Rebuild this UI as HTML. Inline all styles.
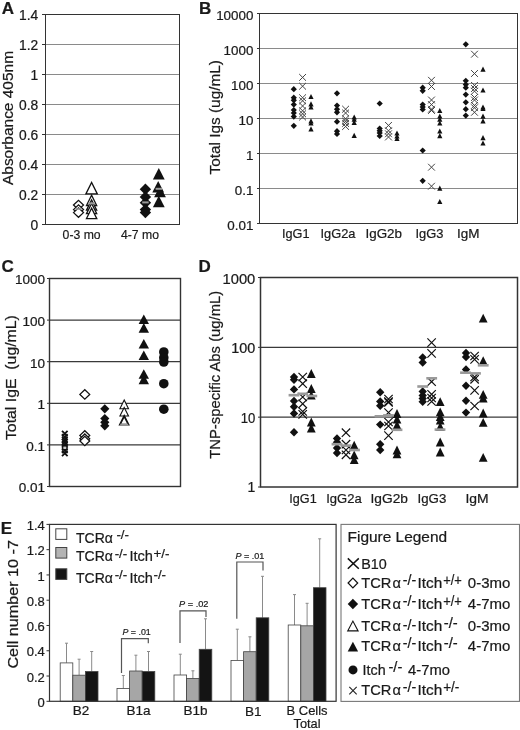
<!DOCTYPE html>
<html><head><meta charset="utf-8"><title>Figure</title>
<style>
html,body{margin:0;padding:0;background:#fff;}
svg{display:block;font-family:"Liberation Sans",sans-serif;}
text{stroke:#1a1a1a;stroke-width:0.22px;}
</style></head><body>
<svg width="520" height="730" viewBox="0 0 520 730">
<rect width="520" height="730" fill="#fff"/>
<line x1="42.0" y1="14.5" x2="45.5" y2="14.5" stroke="#333" stroke-width="1"/>
<text x="38.3" y="20.3" font-size="13.8" text-anchor="end" font-weight="normal" fill="#1a1a1a">1.4</text>
<line x1="45.5" y1="44.5" x2="179.5" y2="44.5" stroke="#8a8a8a" stroke-width="1"/>
<line x1="42.0" y1="44.5" x2="45.5" y2="44.5" stroke="#333" stroke-width="1"/>
<text x="38.3" y="50.3" font-size="13.8" text-anchor="end" font-weight="normal" fill="#1a1a1a">1.2</text>
<line x1="45.5" y1="74.5" x2="179.5" y2="74.5" stroke="#8a8a8a" stroke-width="1"/>
<line x1="42.0" y1="74.5" x2="45.5" y2="74.5" stroke="#333" stroke-width="1"/>
<text x="38.3" y="80.3" font-size="13.8" text-anchor="end" font-weight="normal" fill="#1a1a1a">1</text>
<line x1="45.5" y1="104.5" x2="179.5" y2="104.5" stroke="#8a8a8a" stroke-width="1"/>
<line x1="42.0" y1="104.5" x2="45.5" y2="104.5" stroke="#333" stroke-width="1"/>
<text x="38.3" y="110.3" font-size="13.8" text-anchor="end" font-weight="normal" fill="#1a1a1a">0.8</text>
<line x1="45.5" y1="134.5" x2="179.5" y2="134.5" stroke="#8a8a8a" stroke-width="1"/>
<line x1="42.0" y1="134.5" x2="45.5" y2="134.5" stroke="#333" stroke-width="1"/>
<text x="38.3" y="140.3" font-size="13.8" text-anchor="end" font-weight="normal" fill="#1a1a1a">0.6</text>
<line x1="45.5" y1="164.5" x2="179.5" y2="164.5" stroke="#8a8a8a" stroke-width="1"/>
<line x1="42.0" y1="164.5" x2="45.5" y2="164.5" stroke="#333" stroke-width="1"/>
<text x="38.3" y="170.3" font-size="13.8" text-anchor="end" font-weight="normal" fill="#1a1a1a">0.4</text>
<line x1="45.5" y1="194.5" x2="179.5" y2="194.5" stroke="#8a8a8a" stroke-width="1"/>
<line x1="42.0" y1="194.5" x2="45.5" y2="194.5" stroke="#333" stroke-width="1"/>
<text x="38.3" y="200.3" font-size="13.8" text-anchor="end" font-weight="normal" fill="#1a1a1a">0.2</text>
<line x1="42.0" y1="224.5" x2="45.5" y2="224.5" stroke="#333" stroke-width="1"/>
<text x="38.3" y="230.3" font-size="13.8" text-anchor="end" font-weight="normal" fill="#1a1a1a">0</text>
<rect x="45.5" y="14.5" width="134.0" height="210.0" fill="none" stroke="#333" stroke-width="1"/>
<text x="1.8" y="14.4" font-size="17" text-anchor="start" font-weight="bold" fill="#1a1a1a">A</text>
<text transform="translate(12.6,118) rotate(-90)" font-size="14.5" text-anchor="middle" fill="#1a1a1a" textLength="134" lengthAdjust="spacingAndGlyphs">Absorbance 405nm</text>
<text x="81.6" y="238.6" font-size="13.5" text-anchor="middle" font-weight="normal" fill="#1a1a1a" textLength="38" lengthAdjust="spacingAndGlyphs">0-3 mo</text>
<text x="140" y="238.6" font-size="13.5" text-anchor="middle" font-weight="normal" fill="#1a1a1a" textLength="38" lengthAdjust="spacingAndGlyphs">4-7 mo</text>
<polygon points="73.5,205.0 78.5,200.3 83.5,205.0 78.5,209.7" fill="#fff" stroke="#111" stroke-width="1.3"/>
<polygon points="73.5,209.6 78.5,204.9 83.5,209.6 78.5,214.3" fill="#fff" stroke="#111" stroke-width="1.3"/>
<polygon points="73.5,212.6 78.5,207.9 83.5,212.6 78.5,217.3" fill="#fff" stroke="#111" stroke-width="1.3"/>
<polygon points="85.9,193.9 91.6,182.5 97.3,193.9" fill="#fff" stroke="#111" stroke-width="1.3"/>
<polygon points="86.5,205.5 91.6,195.3 96.7,205.5" fill="#fff" stroke="#111" stroke-width="1.3"/>
<polygon points="86.5,210.1 91.6,199.9 96.7,210.1" fill="#fff" stroke="#111" stroke-width="1.3"/>
<polygon points="86.5,213.6 91.6,203.4 96.7,213.6" fill="#fff" stroke="#111" stroke-width="1.3"/>
<polygon points="86.4,218.7 91.6,208.3 96.8,218.7" fill="#fff" stroke="#111" stroke-width="1.3"/>
<rect x="75.5" y="208.2" width="6" height="1.6" fill="#9a9a9a"/>
<rect x="88.3" y="202.4" width="6.5" height="2" fill="#9a9a9a"/>
<polygon points="139.7,189.3 145.4,183.6 151.1,189.3 145.4,195.0" fill="#111" stroke="none" stroke-width="1"/>
<polygon points="139.7,197.0 145.4,191.3 151.1,197.0 145.4,202.7" fill="#111" stroke="none" stroke-width="1"/>
<polygon points="139.7,202.7 145.4,197.0 151.1,202.7 145.4,208.4" fill="#111" stroke="none" stroke-width="1"/>
<polygon points="139.7,209.6 145.4,203.9 151.1,209.6 145.4,215.3" fill="#111" stroke="none" stroke-width="1"/>
<polygon points="139.7,212.6 145.4,206.9 151.1,212.6 145.4,218.3" fill="#111" stroke="none" stroke-width="1"/>
<polygon points="152.9,179.5 158.8,168.1 164.7,179.5" fill="#111" stroke="none" stroke-width="1"/>
<polygon points="152.3,192.5 158.2,181.1 164.1,192.5" fill="#111" stroke="none" stroke-width="1"/>
<polygon points="154.1,197.3 160.0,185.9 165.9,197.3" fill="#111" stroke="none" stroke-width="1"/>
<polygon points="152.9,207.2 158.8,195.8 164.7,207.2" fill="#111" stroke="none" stroke-width="1"/>
<rect x="142.2" y="201.4" width="6.5" height="2" fill="#9a9a9a"/>
<rect x="155.6" y="187.8" width="6.5" height="2" fill="#9a9a9a"/>
<line x1="257.0" y1="13.5" x2="259.5" y2="13.5" stroke="#333" stroke-width="1"/>
<text x="253.4" y="19.9" font-size="13.4" text-anchor="end" font-weight="normal" fill="#1a1a1a">10000</text>
<line x1="259.5" y1="48.5" x2="517.5" y2="48.5" stroke="#8a8a8a" stroke-width="1"/>
<line x1="257.0" y1="48.5" x2="259.5" y2="48.5" stroke="#333" stroke-width="1"/>
<text x="253.4" y="54.9" font-size="13.4" text-anchor="end" font-weight="normal" fill="#1a1a1a">1000</text>
<line x1="259.5" y1="83.5" x2="517.5" y2="83.5" stroke="#8a8a8a" stroke-width="1"/>
<line x1="257.0" y1="83.5" x2="259.5" y2="83.5" stroke="#333" stroke-width="1"/>
<text x="253.4" y="89.9" font-size="13.4" text-anchor="end" font-weight="normal" fill="#1a1a1a">100</text>
<line x1="259.5" y1="118.5" x2="517.5" y2="118.5" stroke="#8a8a8a" stroke-width="1"/>
<line x1="257.0" y1="118.5" x2="259.5" y2="118.5" stroke="#333" stroke-width="1"/>
<text x="253.4" y="124.9" font-size="13.4" text-anchor="end" font-weight="normal" fill="#1a1a1a">10</text>
<line x1="259.5" y1="153.5" x2="517.5" y2="153.5" stroke="#8a8a8a" stroke-width="1"/>
<line x1="257.0" y1="153.5" x2="259.5" y2="153.5" stroke="#333" stroke-width="1"/>
<text x="253.4" y="159.9" font-size="13.4" text-anchor="end" font-weight="normal" fill="#1a1a1a">1</text>
<line x1="259.5" y1="188.5" x2="517.5" y2="188.5" stroke="#8a8a8a" stroke-width="1"/>
<line x1="257.0" y1="188.5" x2="259.5" y2="188.5" stroke="#333" stroke-width="1"/>
<text x="253.4" y="194.9" font-size="13.4" text-anchor="end" font-weight="normal" fill="#1a1a1a">0.1</text>
<line x1="257.0" y1="223.5" x2="259.5" y2="223.5" stroke="#333" stroke-width="1"/>
<text x="253.4" y="229.9" font-size="13.4" text-anchor="end" font-weight="normal" fill="#1a1a1a">0.01</text>
<rect x="259.5" y="13.5" width="258.0" height="210.0" fill="none" stroke="#333" stroke-width="1"/>
<text x="199" y="14.2" font-size="17" text-anchor="start" font-weight="bold" fill="#1a1a1a">B</text>
<text transform="translate(220,117.3) rotate(-90)" font-size="15" text-anchor="middle" fill="#1a1a1a" textLength="114.5" lengthAdjust="spacingAndGlyphs">Total Igs (ug/mL)</text>
<text x="295.75" y="238" font-size="13.5" text-anchor="middle" font-weight="normal" fill="#1a1a1a" textLength="27.5" lengthAdjust="spacingAndGlyphs">IgG1</text>
<text x="338.0" y="238" font-size="13.5" text-anchor="middle" font-weight="normal" fill="#1a1a1a" textLength="35" lengthAdjust="spacingAndGlyphs">IgG2a</text>
<text x="383.75" y="238" font-size="13.5" text-anchor="middle" font-weight="normal" fill="#1a1a1a" textLength="36.5" lengthAdjust="spacingAndGlyphs">IgG2b</text>
<text x="429.5" y="238" font-size="13.5" text-anchor="middle" font-weight="normal" fill="#1a1a1a" textLength="28" lengthAdjust="spacingAndGlyphs">IgG3</text>
<text x="468.25" y="238" font-size="13.5" text-anchor="middle" font-weight="normal" fill="#1a1a1a" textLength="22.5" lengthAdjust="spacingAndGlyphs">IgM</text>
<path d="M299.2,74.0L306.0,80.8M299.2,80.8L306.0,74.0" stroke="#444" stroke-width="1" fill="none"/>
<path d="M299.2,82.8L306.0,89.6M299.2,89.6L306.0,82.8" stroke="#444" stroke-width="1" fill="none"/>
<path d="M299.2,94.3L306.0,101.1M299.2,101.1L306.0,94.3" stroke="#444" stroke-width="1" fill="none"/>
<path d="M299.2,97.4L306.0,104.2M299.2,104.2L306.0,97.4" stroke="#444" stroke-width="1" fill="none"/>
<path d="M299.2,102.6L306.0,109.4M299.2,109.4L306.0,102.6" stroke="#444" stroke-width="1" fill="none"/>
<path d="M299.2,107.4L306.0,114.2M299.2,114.2L306.0,107.4" stroke="#444" stroke-width="1" fill="none"/>
<path d="M299.2,110.4L306.0,117.2M299.2,117.2L306.0,110.4" stroke="#444" stroke-width="1" fill="none"/>
<path d="M299.2,113.6L306.0,120.4M299.2,120.4L306.0,113.6" stroke="#444" stroke-width="1" fill="none"/>
<path d="M342.2,105.8L349.0,112.6M342.2,112.6L349.0,105.8" stroke="#444" stroke-width="1" fill="none"/>
<path d="M342.2,109.6L349.0,116.4M342.2,116.4L349.0,109.6" stroke="#444" stroke-width="1" fill="none"/>
<path d="M342.2,115.4L349.0,122.2M342.2,122.2L349.0,115.4" stroke="#444" stroke-width="1" fill="none"/>
<path d="M342.2,117.8L349.0,124.6M342.2,124.6L349.0,117.8" stroke="#444" stroke-width="1" fill="none"/>
<path d="M342.2,120.1L349.0,126.9M342.2,126.9L349.0,120.1" stroke="#444" stroke-width="1" fill="none"/>
<path d="M342.2,123.1L349.0,129.9M342.2,129.9L349.0,123.1" stroke="#444" stroke-width="1" fill="none"/>
<path d="M385.1,122.0L391.9,128.8M385.1,128.8L391.9,122.0" stroke="#444" stroke-width="1" fill="none"/>
<path d="M385.1,127.4L391.9,134.2M385.1,134.2L391.9,127.4" stroke="#444" stroke-width="1" fill="none"/>
<path d="M385.1,130.4L391.9,137.2M385.1,137.2L391.9,130.4" stroke="#444" stroke-width="1" fill="none"/>
<path d="M385.1,133.6L391.9,140.4M385.1,140.4L391.9,133.6" stroke="#444" stroke-width="1" fill="none"/>
<path d="M428.1,76.9L434.9,83.7M428.1,83.7L434.9,76.9" stroke="#444" stroke-width="1" fill="none"/>
<path d="M428.1,83.1L434.9,89.9M428.1,89.9L434.9,83.1" stroke="#444" stroke-width="1" fill="none"/>
<path d="M428.1,96.6L434.9,103.4M428.1,103.4L434.9,96.6" stroke="#444" stroke-width="1" fill="none"/>
<path d="M428.1,101.2L434.9,108.0M428.1,108.0L434.9,101.2" stroke="#444" stroke-width="1" fill="none"/>
<path d="M428.1,105.8L434.9,112.6M428.1,112.6L434.9,105.8" stroke="#444" stroke-width="1" fill="none"/>
<path d="M428.1,107.1L434.9,113.9M428.1,113.9L434.9,107.1" stroke="#444" stroke-width="1" fill="none"/>
<path d="M428.1,163.8L434.9,170.6M428.1,170.6L434.9,163.8" stroke="#444" stroke-width="1" fill="none"/>
<path d="M428.1,182.8L434.9,189.6M428.1,189.6L434.9,182.8" stroke="#444" stroke-width="1" fill="none"/>
<path d="M471.1,50.8L477.9,57.6M471.1,57.6L477.9,50.8" stroke="#444" stroke-width="1" fill="none"/>
<path d="M471.1,70.1L477.9,76.9M471.1,76.9L477.9,70.1" stroke="#444" stroke-width="1" fill="none"/>
<path d="M471.1,82.0L477.9,88.8M471.1,88.8L477.9,82.0" stroke="#444" stroke-width="1" fill="none"/>
<path d="M471.1,85.1L477.9,91.9M471.1,91.9L477.9,85.1" stroke="#444" stroke-width="1" fill="none"/>
<path d="M471.1,87.8L477.9,94.6M471.1,94.6L477.9,87.8" stroke="#444" stroke-width="1" fill="none"/>
<path d="M471.1,94.1L477.9,100.9M471.1,100.9L477.9,94.1" stroke="#444" stroke-width="1" fill="none"/>
<path d="M471.1,96.6L477.9,103.4M471.1,103.4L477.9,96.6" stroke="#444" stroke-width="1" fill="none"/>
<path d="M471.1,102.0L477.9,108.8M471.1,108.8L477.9,102.0" stroke="#444" stroke-width="1" fill="none"/>
<path d="M471.1,104.3L477.9,111.1M471.1,111.1L477.9,104.3" stroke="#444" stroke-width="1" fill="none"/>
<path d="M471.1,108.9L477.9,115.7M471.1,115.7L477.9,108.9" stroke="#444" stroke-width="1" fill="none"/>
<polygon points="290.7,89.2 293.8,86.1 296.9,89.2 293.8,92.3" fill="#111" stroke="none" stroke-width="1"/>
<polygon points="290.7,97.7 293.8,94.6 296.9,97.7 293.8,100.8" fill="#111" stroke="none" stroke-width="1"/>
<polygon points="290.7,100.3 293.8,97.2 296.9,100.3 293.8,103.4" fill="#111" stroke="none" stroke-width="1"/>
<polygon points="290.7,104.6 293.8,101.5 296.9,104.6 293.8,107.7" fill="#111" stroke="none" stroke-width="1"/>
<polygon points="290.7,110.0 293.8,106.9 296.9,110.0 293.8,113.1" fill="#111" stroke="none" stroke-width="1"/>
<polygon points="290.7,113.0 293.8,109.9 296.9,113.0 293.8,116.1" fill="#111" stroke="none" stroke-width="1"/>
<polygon points="290.7,116.6 293.8,113.5 296.9,116.6 293.8,119.7" fill="#111" stroke="none" stroke-width="1"/>
<polygon points="290.7,125.8 293.8,122.7 296.9,125.8 293.8,128.9" fill="#111" stroke="none" stroke-width="1"/>
<polygon points="333.9,93.3 337.0,90.2 340.1,93.3 337.0,96.4" fill="#111" stroke="none" stroke-width="1"/>
<polygon points="333.9,105.5 337.0,102.4 340.1,105.5 337.0,108.6" fill="#111" stroke="none" stroke-width="1"/>
<polygon points="333.9,109.2 337.0,106.1 340.1,109.2 337.0,112.3" fill="#111" stroke="none" stroke-width="1"/>
<polygon points="333.9,112.3 337.0,109.2 340.1,112.3 337.0,115.4" fill="#111" stroke="none" stroke-width="1"/>
<polygon points="333.9,121.7 337.0,118.6 340.1,121.7 337.0,124.8" fill="#111" stroke="none" stroke-width="1"/>
<polygon points="333.9,131.2 337.0,128.1 340.1,131.2 337.0,134.3" fill="#111" stroke="none" stroke-width="1"/>
<polygon points="333.9,134.0 337.0,130.9 340.1,134.0 337.0,137.1" fill="#111" stroke="none" stroke-width="1"/>
<polygon points="376.6,103.5 379.7,100.4 382.8,103.5 379.7,106.6" fill="#111" stroke="none" stroke-width="1"/>
<polygon points="376.6,128.5 379.7,125.4 382.8,128.5 379.7,131.6" fill="#111" stroke="none" stroke-width="1"/>
<polygon points="376.6,130.8 379.7,127.7 382.8,130.8 379.7,133.9" fill="#111" stroke="none" stroke-width="1"/>
<polygon points="376.6,133.0 379.7,129.9 382.8,133.0 379.7,136.1" fill="#111" stroke="none" stroke-width="1"/>
<polygon points="376.6,136.0 379.7,132.9 382.8,136.0 379.7,139.1" fill="#111" stroke="none" stroke-width="1"/>
<polygon points="419.6,87.7 422.7,84.6 425.8,87.7 422.7,90.8" fill="#111" stroke="none" stroke-width="1"/>
<polygon points="419.6,90.8 422.7,87.7 425.8,90.8 422.7,93.9" fill="#111" stroke="none" stroke-width="1"/>
<polygon points="419.6,104.6 422.7,101.5 425.8,104.6 422.7,107.7" fill="#111" stroke="none" stroke-width="1"/>
<polygon points="419.6,107.0 422.7,103.9 425.8,107.0 422.7,110.1" fill="#111" stroke="none" stroke-width="1"/>
<polygon points="419.6,109.5 422.7,106.4 425.8,109.5 422.7,112.6" fill="#111" stroke="none" stroke-width="1"/>
<polygon points="419.6,150.5 422.7,147.4 425.8,150.5 422.7,153.6" fill="#111" stroke="none" stroke-width="1"/>
<polygon points="419.6,180.8 422.7,177.7 425.8,180.8 422.7,183.9" fill="#111" stroke="none" stroke-width="1"/>
<polygon points="462.7,44.3 465.8,41.2 468.9,44.3 465.8,47.4" fill="#111" stroke="none" stroke-width="1"/>
<polygon points="462.7,80.8 465.8,77.7 468.9,80.8 465.8,83.9" fill="#111" stroke="none" stroke-width="1"/>
<polygon points="462.7,84.6 465.8,81.5 468.9,84.6 465.8,87.7" fill="#111" stroke="none" stroke-width="1"/>
<polygon points="462.7,87.7 465.8,84.6 468.9,87.7 465.8,90.8" fill="#111" stroke="none" stroke-width="1"/>
<polygon points="462.7,94.6 465.8,91.5 468.9,94.6 465.8,97.7" fill="#111" stroke="none" stroke-width="1"/>
<polygon points="462.7,102.3 465.8,99.2 468.9,102.3 465.8,105.4" fill="#111" stroke="none" stroke-width="1"/>
<polygon points="462.7,109.2 465.8,106.1 468.9,109.2 465.8,112.3" fill="#111" stroke="none" stroke-width="1"/>
<polygon points="462.7,115.6 465.8,112.5 468.9,115.6 465.8,118.7" fill="#111" stroke="none" stroke-width="1"/>
<polygon points="308.4,99.1 311.0,93.9 313.6,99.1" fill="#111" stroke="none" stroke-width="1"/>
<polygon points="308.4,106.4 311.0,101.2 313.6,106.4" fill="#111" stroke="none" stroke-width="1"/>
<polygon points="308.4,109.6 311.0,104.4 313.6,109.6" fill="#111" stroke="none" stroke-width="1"/>
<polygon points="308.4,123.4 311.0,118.2 313.6,123.4" fill="#111" stroke="none" stroke-width="1"/>
<polygon points="308.4,125.6 311.0,120.4 313.6,125.6" fill="#111" stroke="none" stroke-width="1"/>
<polygon points="308.4,131.4 311.0,126.2 313.6,131.4" fill="#111" stroke="none" stroke-width="1"/>
<polygon points="351.6,119.6 354.2,114.4 356.8,119.6" fill="#111" stroke="none" stroke-width="1"/>
<polygon points="351.6,121.8 354.2,116.6 356.8,121.8" fill="#111" stroke="none" stroke-width="1"/>
<polygon points="351.6,124.9 354.2,119.7 356.8,124.9" fill="#111" stroke="none" stroke-width="1"/>
<polygon points="351.6,138.0 354.2,132.8 356.8,138.0" fill="#111" stroke="none" stroke-width="1"/>
<polygon points="394.4,135.6 397.0,130.4 399.6,135.6" fill="#111" stroke="none" stroke-width="1"/>
<polygon points="394.4,138.6 397.0,133.4 399.6,138.6" fill="#111" stroke="none" stroke-width="1"/>
<polygon points="394.4,141.1 397.0,135.9 399.6,141.1" fill="#111" stroke="none" stroke-width="1"/>
<polygon points="437.2,113.1 439.8,107.9 442.4,113.1" fill="#111" stroke="none" stroke-width="1"/>
<polygon points="437.2,118.6 439.8,113.4 442.4,118.6" fill="#111" stroke="none" stroke-width="1"/>
<polygon points="437.2,121.8 439.8,116.6 442.4,121.8" fill="#111" stroke="none" stroke-width="1"/>
<polygon points="437.2,125.6 439.8,120.4 442.4,125.6" fill="#111" stroke="none" stroke-width="1"/>
<polygon points="437.2,133.6 439.8,128.4 442.4,133.6" fill="#111" stroke="none" stroke-width="1"/>
<polygon points="437.2,138.2 439.8,133.0 442.4,138.2" fill="#111" stroke="none" stroke-width="1"/>
<polygon points="437.2,190.8 439.8,185.6 442.4,190.8" fill="#111" stroke="none" stroke-width="1"/>
<polygon points="437.2,204.1 439.8,198.9 442.4,204.1" fill="#111" stroke="none" stroke-width="1"/>
<polygon points="480.4,71.8 483.0,66.6 485.6,71.8" fill="#111" stroke="none" stroke-width="1"/>
<polygon points="480.4,92.6 483.0,87.4 485.6,92.6" fill="#111" stroke="none" stroke-width="1"/>
<polygon points="480.4,109.6 483.0,104.4 485.6,109.6" fill="#111" stroke="none" stroke-width="1"/>
<polygon points="480.4,111.1 483.0,105.9 485.6,111.1" fill="#111" stroke="none" stroke-width="1"/>
<polygon points="480.4,118.8 483.0,113.6 485.6,118.8" fill="#111" stroke="none" stroke-width="1"/>
<polygon points="480.4,123.4 483.0,118.2 485.6,123.4" fill="#111" stroke="none" stroke-width="1"/>
<polygon points="480.4,140.3 483.0,135.1 485.6,140.3" fill="#111" stroke="none" stroke-width="1"/>
<polygon points="480.4,145.6 483.0,140.4 485.6,145.6" fill="#111" stroke="none" stroke-width="1"/>
<line x1="47.0" y1="278.5" x2="49.5" y2="278.5" stroke="#333" stroke-width="1"/>
<text x="45" y="284.3" font-size="13.5" text-anchor="end" font-weight="normal" fill="#1a1a1a">1000</text>
<line x1="49.5" y1="320.1" x2="180.5" y2="320.1" stroke="#3a3a3a" stroke-width="1.2"/>
<line x1="47.0" y1="320.1" x2="49.5" y2="320.1" stroke="#333" stroke-width="1"/>
<text x="45" y="325.90000000000003" font-size="13.5" text-anchor="end" font-weight="normal" fill="#1a1a1a">100</text>
<line x1="49.5" y1="361.7" x2="180.5" y2="361.7" stroke="#3a3a3a" stroke-width="1.2"/>
<line x1="47.0" y1="361.7" x2="49.5" y2="361.7" stroke="#333" stroke-width="1"/>
<text x="45" y="367.5" font-size="13.5" text-anchor="end" font-weight="normal" fill="#1a1a1a">10</text>
<line x1="49.5" y1="403.3" x2="180.5" y2="403.3" stroke="#3a3a3a" stroke-width="1.2"/>
<line x1="47.0" y1="403.3" x2="49.5" y2="403.3" stroke="#333" stroke-width="1"/>
<text x="45" y="409.1" font-size="13.5" text-anchor="end" font-weight="normal" fill="#1a1a1a">1</text>
<line x1="49.5" y1="444.9" x2="180.5" y2="444.9" stroke="#3a3a3a" stroke-width="1.2"/>
<line x1="47.0" y1="444.9" x2="49.5" y2="444.9" stroke="#333" stroke-width="1"/>
<text x="45" y="450.7" font-size="13.5" text-anchor="end" font-weight="normal" fill="#1a1a1a">0.1</text>
<line x1="47.0" y1="486.5" x2="49.5" y2="486.5" stroke="#333" stroke-width="1"/>
<text x="45" y="492.3" font-size="13.5" text-anchor="end" font-weight="normal" fill="#1a1a1a">0.01</text>
<rect x="49.5" y="278.5" width="131.0" height="208.0" fill="none" stroke="#333" stroke-width="1.4"/>
<text x="1.5" y="271.8" font-size="17" text-anchor="start" font-weight="bold" fill="#1a1a1a">C</text>
<text transform="translate(15.8,377.6) rotate(-90)" font-size="14" text-anchor="middle" fill="#1a1a1a" textLength="125" lengthAdjust="spacingAndGlyphs">Total IgE &#160;(ug/mL)</text>
<path d="M62.0,430.8L67.6,436.4M62.0,436.4L67.6,430.8" stroke="#111" stroke-width="1.8" fill="none"/>
<path d="M62.0,434.2L67.6,439.8M62.0,439.8L67.6,434.2" stroke="#111" stroke-width="1.8" fill="none"/>
<path d="M62.0,436.8L67.6,442.4M62.0,442.4L67.6,436.8" stroke="#111" stroke-width="1.8" fill="none"/>
<path d="M62.0,439.2L67.6,444.8M62.0,444.8L67.6,439.2" stroke="#111" stroke-width="1.8" fill="none"/>
<path d="M62.0,441.8L67.6,447.4M62.0,447.4L67.6,441.8" stroke="#111" stroke-width="1.8" fill="none"/>
<path d="M62.0,444.6L67.6,450.2M62.0,450.2L67.6,444.6" stroke="#111" stroke-width="1.8" fill="none"/>
<path d="M62.0,447.4L67.6,453.0M62.0,453.0L67.6,447.4" stroke="#111" stroke-width="1.8" fill="none"/>
<path d="M62.0,450.6L67.6,456.2M62.0,456.2L67.6,450.6" stroke="#111" stroke-width="1.8" fill="none"/>
<rect x="63.4" y="446.6" width="2.8" height="2.4" fill="#c8c8c8"/>
<polygon points="79.9,394.4 84.8,389.7 89.7,394.4 84.8,399.1" fill="#fff" stroke="#111" stroke-width="1.3"/>
<polygon points="79.9,435.4 84.8,430.7 89.7,435.4 84.8,440.1" fill="#fff" stroke="#111" stroke-width="1.3"/>
<polygon points="79.9,438.7 84.8,434.0 89.7,438.7 84.8,443.4" fill="#fff" stroke="#111" stroke-width="1.3"/>
<polygon points="79.9,441.0 84.8,436.3 89.7,441.0 84.8,445.7" fill="#fff" stroke="#111" stroke-width="1.3"/>
<polygon points="100.2,408.8 104.8,404.2 109.4,408.8 104.8,413.4" fill="#111" stroke="none" stroke-width="1"/>
<polygon points="100.2,418.5 104.8,413.9 109.4,418.5 104.8,423.1" fill="#111" stroke="none" stroke-width="1"/>
<polygon points="100.2,422.3 104.8,417.7 109.4,422.3 104.8,426.9" fill="#111" stroke="none" stroke-width="1"/>
<polygon points="100.2,425.8 104.8,421.2 109.4,425.8 104.8,430.4" fill="#111" stroke="none" stroke-width="1"/>
<polygon points="119.9,408.7 124.2,400.1 128.5,408.7" fill="#fff" stroke="#111" stroke-width="1.1"/>
<polygon points="119.9,416.0 124.2,407.4 128.5,416.0" fill="#fff" stroke="#111" stroke-width="1.1"/>
<polygon points="119.9,424.7 124.2,416.1 128.5,424.7" fill="#fff" stroke="#111" stroke-width="1.8"/>
<rect x="120.2" y="423.7" width="8" height="1.8" fill="#9a9a9a"/>
<polygon points="138.6,324.0 143.8,314.4 149.0,324.0" fill="#111" stroke="none" stroke-width="1"/>
<polygon points="138.6,332.7 143.8,323.1 149.0,332.7" fill="#111" stroke="none" stroke-width="1"/>
<polygon points="138.6,348.6 143.8,339.0 149.0,348.6" fill="#111" stroke="none" stroke-width="1"/>
<polygon points="138.6,360.0 143.8,350.4 149.0,360.0" fill="#111" stroke="none" stroke-width="1"/>
<polygon points="138.6,378.8 143.8,369.2 149.0,378.8" fill="#111" stroke="none" stroke-width="1"/>
<polygon points="138.6,384.2 143.8,374.6 149.0,384.2" fill="#111" stroke="none" stroke-width="1"/>
<circle cx="163.8" cy="352" r="4.8" fill="#111"/>
<circle cx="163.8" cy="357.7" r="4.8" fill="#111"/>
<circle cx="163.8" cy="362" r="4.8" fill="#111"/>
<circle cx="163.8" cy="383.7" r="4.8" fill="#111"/>
<circle cx="163.8" cy="409.2" r="4.8" fill="#111"/>
<line x1="258.0" y1="277.5" x2="260.5" y2="277.5" stroke="#333" stroke-width="1"/>
<text x="255.3" y="283.5" font-size="14" text-anchor="end" font-weight="normal" fill="#1a1a1a" textLength="32.8" lengthAdjust="spacingAndGlyphs">1000</text>
<line x1="260.5" y1="347.3333333333333" x2="517.5" y2="347.3333333333333" stroke="#3a3a3a" stroke-width="1.2"/>
<line x1="258.0" y1="347.3333333333333" x2="260.5" y2="347.3333333333333" stroke="#333" stroke-width="1"/>
<text x="255.3" y="353.3333333333333" font-size="14" text-anchor="end" font-weight="normal" fill="#1a1a1a" textLength="24" lengthAdjust="spacingAndGlyphs">100</text>
<line x1="260.5" y1="417.16666666666663" x2="517.5" y2="417.16666666666663" stroke="#3a3a3a" stroke-width="1.2"/>
<line x1="258.0" y1="417.16666666666663" x2="260.5" y2="417.16666666666663" stroke="#333" stroke-width="1"/>
<text x="255.3" y="423.16666666666663" font-size="14" text-anchor="end" font-weight="normal" fill="#1a1a1a" textLength="14.6" lengthAdjust="spacingAndGlyphs">10</text>
<line x1="258.0" y1="487.0" x2="260.5" y2="487.0" stroke="#333" stroke-width="1"/>
<text x="255.3" y="491.8" font-size="14" text-anchor="end" font-weight="normal" fill="#1a1a1a">1</text>
<rect x="260.5" y="277.5" width="257.0" height="209.5" fill="none" stroke="#333" stroke-width="1.5"/>
<text x="198.5" y="271.6" font-size="17" text-anchor="start" font-weight="bold" fill="#1a1a1a">D</text>
<text transform="translate(219.5,374.8) rotate(-90)" font-size="14.5" text-anchor="middle" fill="#1a1a1a" textLength="168" lengthAdjust="spacingAndGlyphs">TNP-specific Abs (ug/mL)</text>
<text x="303.0" y="502.7" font-size="13.5" text-anchor="middle" font-weight="normal" fill="#1a1a1a" textLength="27.4" lengthAdjust="spacingAndGlyphs">IgG1</text>
<text x="343.95" y="502.7" font-size="13.5" text-anchor="middle" font-weight="normal" fill="#1a1a1a" textLength="35.5" lengthAdjust="spacingAndGlyphs">IgG2a</text>
<text x="389.2" y="502.7" font-size="13.5" text-anchor="middle" font-weight="normal" fill="#1a1a1a" textLength="37.4" lengthAdjust="spacingAndGlyphs">IgG2b</text>
<text x="431.9" y="502.7" font-size="13.5" text-anchor="middle" font-weight="normal" fill="#1a1a1a" textLength="28.8" lengthAdjust="spacingAndGlyphs">IgG3</text>
<text x="477.1" y="502.7" font-size="13.5" text-anchor="middle" font-weight="normal" fill="#1a1a1a" textLength="23.2" lengthAdjust="spacingAndGlyphs">IgM</text>
<path d="M298.5,372.8L306.9,381.2M298.5,381.2L306.9,372.8" stroke="#111" stroke-width="1.2" fill="none"/>
<path d="M298.5,379.5L306.9,387.9M298.5,387.9L306.9,379.5" stroke="#111" stroke-width="1.2" fill="none"/>
<path d="M298.5,392.8L306.9,401.2M298.5,401.2L306.9,392.8" stroke="#111" stroke-width="1.2" fill="none"/>
<path d="M298.5,399.6L306.9,408.0M298.5,408.0L306.9,399.6" stroke="#111" stroke-width="1.2" fill="none"/>
<path d="M298.5,407.3L306.9,415.7M298.5,415.7L306.9,407.3" stroke="#111" stroke-width="1.2" fill="none"/>
<path d="M298.5,410.2L306.9,418.6M298.5,418.6L306.9,410.2" stroke="#111" stroke-width="1.2" fill="none"/>
<path d="M341.8,428.5L350.2,436.9M341.8,436.9L350.2,428.5" stroke="#111" stroke-width="1.2" fill="none"/>
<path d="M341.8,440.0L350.2,448.4M341.8,448.4L350.2,440.0" stroke="#111" stroke-width="1.2" fill="none"/>
<path d="M341.8,445.8L350.2,454.2M341.8,454.2L350.2,445.8" stroke="#111" stroke-width="1.2" fill="none"/>
<path d="M341.8,450.6L350.2,459.0M341.8,459.0L350.2,450.6" stroke="#111" stroke-width="1.2" fill="none"/>
<path d="M384.3,394.8L392.7,403.2M384.3,403.2L392.7,394.8" stroke="#111" stroke-width="1.2" fill="none"/>
<path d="M384.3,397.3L392.7,405.7M384.3,405.7L392.7,397.3" stroke="#111" stroke-width="1.2" fill="none"/>
<path d="M384.3,398.3L392.7,406.7M384.3,406.7L392.7,398.3" stroke="#111" stroke-width="1.2" fill="none"/>
<path d="M384.3,408.3L392.7,416.7M384.3,416.7L392.7,408.3" stroke="#111" stroke-width="1.2" fill="none"/>
<path d="M384.3,417.8L392.7,426.2M384.3,426.2L392.7,417.8" stroke="#111" stroke-width="1.2" fill="none"/>
<path d="M384.3,421.8L392.7,430.2M384.3,430.2L392.7,421.8" stroke="#111" stroke-width="1.2" fill="none"/>
<path d="M384.3,431.4L392.7,439.8M384.3,439.8L392.7,431.4" stroke="#111" stroke-width="1.2" fill="none"/>
<path d="M427.4,338.4L435.8,346.8M427.4,346.8L435.8,338.4" stroke="#111" stroke-width="1.2" fill="none"/>
<path d="M427.4,349.2L435.8,357.6M427.4,357.6L435.8,349.2" stroke="#111" stroke-width="1.2" fill="none"/>
<path d="M427.4,377.5L435.8,385.9M427.4,385.9L435.8,377.5" stroke="#111" stroke-width="1.2" fill="none"/>
<path d="M427.4,390.1L435.8,398.5M427.4,398.5L435.8,390.1" stroke="#111" stroke-width="1.2" fill="none"/>
<path d="M427.4,393.8L435.8,402.2M427.4,402.2L435.8,393.8" stroke="#111" stroke-width="1.2" fill="none"/>
<path d="M427.4,397.3L435.8,405.7M427.4,405.7L435.8,397.3" stroke="#111" stroke-width="1.2" fill="none"/>
<path d="M470.4,351.8L478.8,360.2M470.4,360.2L478.8,351.8" stroke="#111" stroke-width="1.2" fill="none"/>
<path d="M470.4,355.2L478.8,363.6M470.4,363.6L478.8,355.2" stroke="#111" stroke-width="1.2" fill="none"/>
<path d="M470.4,372.8L478.8,381.2M470.4,381.2L478.8,372.8" stroke="#111" stroke-width="1.2" fill="none"/>
<path d="M470.4,375.1L478.8,383.5M470.4,383.5L478.8,375.1" stroke="#111" stroke-width="1.2" fill="none"/>
<path d="M470.4,386.2L478.8,394.6M470.4,394.6L478.8,386.2" stroke="#111" stroke-width="1.2" fill="none"/>
<path d="M470.4,401.8L478.8,410.2M470.4,410.2L478.8,401.8" stroke="#111" stroke-width="1.2" fill="none"/>
<polygon points="289.8,377.0 294.0,372.8 298.2,377.0 294.0,381.2" fill="#111" stroke="none" stroke-width="1"/>
<polygon points="289.8,379.8 294.0,375.6 298.2,379.8 294.0,384.0" fill="#111" stroke="none" stroke-width="1"/>
<polygon points="289.8,389.4 294.0,385.2 298.2,389.4 294.0,393.6" fill="#111" stroke="none" stroke-width="1"/>
<polygon points="289.8,401.0 294.0,396.8 298.2,401.0 294.0,405.2" fill="#111" stroke="none" stroke-width="1"/>
<polygon points="289.8,406.7 294.0,402.5 298.2,406.7 294.0,410.9" fill="#111" stroke="none" stroke-width="1"/>
<polygon points="289.8,413.5 294.0,409.3 298.2,413.5 294.0,417.7" fill="#111" stroke="none" stroke-width="1"/>
<polygon points="289.8,432.3 294.0,428.1 298.2,432.3 294.0,436.5" fill="#111" stroke="none" stroke-width="1"/>
<polygon points="332.8,438.5 337.0,434.3 341.2,438.5 337.0,442.7" fill="#111" stroke="none" stroke-width="1"/>
<polygon points="332.8,442.3 337.0,438.1 341.2,442.3 337.0,446.5" fill="#111" stroke="none" stroke-width="1"/>
<polygon points="332.8,448.0 337.0,443.8 341.2,448.0 337.0,452.2" fill="#111" stroke="none" stroke-width="1"/>
<polygon points="332.8,453.0 337.0,448.8 341.2,453.0 337.0,457.2" fill="#111" stroke="none" stroke-width="1"/>
<polygon points="376.0,392.3 380.2,388.1 384.4,392.3 380.2,396.5" fill="#111" stroke="none" stroke-width="1"/>
<polygon points="376.0,401.5 380.2,397.3 384.4,401.5 380.2,405.7" fill="#111" stroke="none" stroke-width="1"/>
<polygon points="376.0,405.8 380.2,401.6 384.4,405.8 380.2,410.0" fill="#111" stroke="none" stroke-width="1"/>
<polygon points="376.0,424.6 380.2,420.4 384.4,424.6 380.2,428.8" fill="#111" stroke="none" stroke-width="1"/>
<polygon points="376.0,444.2 380.2,440.0 384.4,444.2 380.2,448.4" fill="#111" stroke="none" stroke-width="1"/>
<polygon points="376.0,450.0 380.2,445.8 384.4,450.0 380.2,454.2" fill="#111" stroke="none" stroke-width="1"/>
<polygon points="418.5,357.4 422.7,353.2 426.9,357.4 422.7,361.6" fill="#111" stroke="none" stroke-width="1"/>
<polygon points="418.5,362.5 422.7,358.3 426.9,362.5 422.7,366.7" fill="#111" stroke="none" stroke-width="1"/>
<polygon points="418.5,391.5 422.7,387.3 426.9,391.5 422.7,395.7" fill="#111" stroke="none" stroke-width="1"/>
<polygon points="418.5,395.4 422.7,391.2 426.9,395.4 422.7,399.6" fill="#111" stroke="none" stroke-width="1"/>
<polygon points="418.5,398.5 422.7,394.3 426.9,398.5 422.7,402.7" fill="#111" stroke="none" stroke-width="1"/>
<polygon points="418.5,401.7 422.7,397.5 426.9,401.7 422.7,405.9" fill="#111" stroke="none" stroke-width="1"/>
<polygon points="461.8,353.0 466.0,348.8 470.2,353.0 466.0,357.2" fill="#111" stroke="none" stroke-width="1"/>
<polygon points="461.8,357.0 466.0,352.8 470.2,357.0 466.0,361.2" fill="#111" stroke="none" stroke-width="1"/>
<polygon points="461.8,369.5 466.0,365.3 470.2,369.5 466.0,373.7" fill="#111" stroke="none" stroke-width="1"/>
<polygon points="461.8,385.8 466.0,381.6 470.2,385.8 466.0,390.0" fill="#111" stroke="none" stroke-width="1"/>
<polygon points="461.8,400.7 466.0,396.5 470.2,400.7 466.0,404.9" fill="#111" stroke="none" stroke-width="1"/>
<polygon points="461.8,412.6 466.0,408.4 470.2,412.6 466.0,416.8" fill="#111" stroke="none" stroke-width="1"/>
<polygon points="306.9,377.9 311.3,369.1 315.7,377.9" fill="#111" stroke="none" stroke-width="1"/>
<polygon points="306.9,392.9 311.3,384.1 315.7,392.9" fill="#111" stroke="none" stroke-width="1"/>
<polygon points="306.9,399.6 311.3,390.8 315.7,399.6" fill="#111" stroke="none" stroke-width="1"/>
<polygon points="306.9,426.4 311.3,417.6 315.7,426.4" fill="#111" stroke="none" stroke-width="1"/>
<polygon points="306.9,432.4 311.3,423.6 315.7,432.4" fill="#111" stroke="none" stroke-width="1"/>
<polygon points="349.8,449.6 354.2,440.8 358.6,449.6" fill="#111" stroke="none" stroke-width="1"/>
<polygon points="349.8,459.2 354.2,450.4 358.6,459.2" fill="#111" stroke="none" stroke-width="1"/>
<polygon points="349.8,464.0 354.2,455.2 358.6,464.0" fill="#111" stroke="none" stroke-width="1"/>
<polygon points="392.6,417.9 397.0,409.1 401.4,417.9" fill="#111" stroke="none" stroke-width="1"/>
<polygon points="392.6,423.6 397.0,414.8 401.4,423.6" fill="#111" stroke="none" stroke-width="1"/>
<polygon points="392.6,429.4 397.0,420.6 401.4,429.4" fill="#111" stroke="none" stroke-width="1"/>
<polygon points="392.6,454.4 397.0,445.6 401.4,454.4" fill="#111" stroke="none" stroke-width="1"/>
<polygon points="392.6,458.2 397.0,449.4 401.4,458.2" fill="#111" stroke="none" stroke-width="1"/>
<polygon points="435.8,406.0 440.2,397.2 444.6,406.0" fill="#111" stroke="none" stroke-width="1"/>
<polygon points="435.8,416.2 440.2,407.4 444.6,416.2" fill="#111" stroke="none" stroke-width="1"/>
<polygon points="435.8,420.9 440.2,412.1 444.6,420.9" fill="#111" stroke="none" stroke-width="1"/>
<polygon points="435.8,424.6 440.2,415.8 444.6,424.6" fill="#111" stroke="none" stroke-width="1"/>
<polygon points="435.8,430.9 440.2,422.1 444.6,430.9" fill="#111" stroke="none" stroke-width="1"/>
<polygon points="435.8,446.4 440.2,437.6 444.6,446.4" fill="#111" stroke="none" stroke-width="1"/>
<polygon points="435.8,456.4 440.2,447.6 444.6,456.4" fill="#111" stroke="none" stroke-width="1"/>
<polygon points="478.8,322.6 483.2,313.8 487.6,322.6" fill="#111" stroke="none" stroke-width="1"/>
<polygon points="478.8,365.0 483.2,356.2 487.6,365.0" fill="#111" stroke="none" stroke-width="1"/>
<polygon points="478.8,398.8 483.2,390.0 487.6,398.8" fill="#111" stroke="none" stroke-width="1"/>
<polygon points="478.8,402.4 483.2,393.6 487.6,402.4" fill="#111" stroke="none" stroke-width="1"/>
<polygon points="478.8,417.4 483.2,408.6 487.6,417.4" fill="#111" stroke="none" stroke-width="1"/>
<polygon points="478.8,426.8 483.2,418.0 487.6,426.8" fill="#111" stroke="none" stroke-width="1"/>
<polygon points="478.8,461.7 483.2,452.9 487.6,461.7" fill="#111" stroke="none" stroke-width="1"/>
<rect x="288.6" y="393.9" width="10.8" height="2.6" fill="#9a9a9a"/>
<rect x="297.3" y="392.5" width="10.8" height="2.6" fill="#9a9a9a"/>
<rect x="306.4" y="394.7" width="10.8" height="2.6" fill="#9a9a9a"/>
<rect x="331.6" y="442.9" width="10.8" height="2.6" fill="#9a9a9a"/>
<rect x="340.6" y="444.3" width="10.8" height="2.6" fill="#9a9a9a"/>
<rect x="349.1" y="448.7" width="10.8" height="2.6" fill="#9a9a9a"/>
<rect x="374.6" y="415.0" width="10.8" height="2.6" fill="#9a9a9a"/>
<rect x="383.1" y="414.1" width="10.8" height="2.6" fill="#9a9a9a"/>
<rect x="391.6" y="428.5" width="10.8" height="2.6" fill="#9a9a9a"/>
<rect x="417.3" y="385.2" width="10.8" height="2.6" fill="#9a9a9a"/>
<rect x="426.3" y="377.0" width="10.8" height="2.6" fill="#9a9a9a"/>
<rect x="434.6" y="428.3" width="10.8" height="2.6" fill="#9a9a9a"/>
<rect x="460.1" y="371.4" width="10.8" height="2.6" fill="#9a9a9a"/>
<rect x="470.1" y="372.1" width="10.8" height="2.6" fill="#9a9a9a"/>
<rect x="477.8" y="364.0" width="10.8" height="2.6" fill="#9a9a9a"/>
<line x1="46.5" y1="524.4" x2="49.5" y2="524.4" stroke="#333" stroke-width="1"/>
<text x="44.8" y="530.0" font-size="13" text-anchor="end" font-weight="normal" fill="#1a1a1a">1.4</text>
<line x1="46.5" y1="549.6714285714286" x2="49.5" y2="549.6714285714286" stroke="#333" stroke-width="1"/>
<text x="44.8" y="555.2714285714286" font-size="13" text-anchor="end" font-weight="normal" fill="#1a1a1a">1.2</text>
<line x1="46.5" y1="574.9428571428571" x2="49.5" y2="574.9428571428571" stroke="#333" stroke-width="1"/>
<text x="44.8" y="580.5428571428571" font-size="13" text-anchor="end" font-weight="normal" fill="#1a1a1a">1</text>
<line x1="46.5" y1="600.2142857142857" x2="49.5" y2="600.2142857142857" stroke="#333" stroke-width="1"/>
<text x="44.8" y="605.8142857142857" font-size="13" text-anchor="end" font-weight="normal" fill="#1a1a1a">0.8</text>
<line x1="46.5" y1="625.4857142857143" x2="49.5" y2="625.4857142857143" stroke="#333" stroke-width="1"/>
<text x="44.8" y="631.0857142857143" font-size="13" text-anchor="end" font-weight="normal" fill="#1a1a1a">0.6</text>
<line x1="46.5" y1="650.7571428571429" x2="49.5" y2="650.7571428571429" stroke="#333" stroke-width="1"/>
<text x="44.8" y="656.3571428571429" font-size="13" text-anchor="end" font-weight="normal" fill="#1a1a1a">0.4</text>
<line x1="46.5" y1="676.0285714285714" x2="49.5" y2="676.0285714285714" stroke="#333" stroke-width="1"/>
<text x="44.8" y="681.6285714285714" font-size="13" text-anchor="end" font-weight="normal" fill="#1a1a1a">0.2</text>
<line x1="46.5" y1="701.3" x2="49.5" y2="701.3" stroke="#333" stroke-width="1"/>
<text x="44.8" y="706.9" font-size="13" text-anchor="end" font-weight="normal" fill="#1a1a1a">0</text>
<text x="0.8" y="533.6" font-size="17" text-anchor="start" font-weight="bold" fill="#1a1a1a">E</text>
<text transform="translate(18.4,604.3) rotate(-90)" font-size="15.2" text-anchor="middle" fill="#1a1a1a" textLength="128.5" lengthAdjust="spacingAndGlyphs">Cell number 10 -7</text>
<line x1="66.5" y1="643.2" x2="66.5" y2="662.9" stroke="#8a8a8a" stroke-width="1"/>
<line x1="65.0" y1="643.2" x2="68.0" y2="643.2" stroke="#8a8a8a" stroke-width="1"/>
<rect x="60.2" y="662.9" width="12.6" height="38.4" fill="#fff" stroke="#444" stroke-width="0.8"/>
<line x1="79.1" y1="659.2" x2="79.1" y2="675.2" stroke="#8a8a8a" stroke-width="1"/>
<line x1="77.6" y1="659.2" x2="80.6" y2="659.2" stroke="#8a8a8a" stroke-width="1"/>
<rect x="72.8" y="675.2" width="12.6" height="26.1" fill="#a6a6a6" stroke="#444" stroke-width="0.8"/>
<line x1="91.7" y1="651.5" x2="91.7" y2="671.5" stroke="#8a8a8a" stroke-width="1"/>
<line x1="90.2" y1="651.5" x2="93.2" y2="651.5" stroke="#8a8a8a" stroke-width="1"/>
<rect x="85.4" y="671.5" width="12.6" height="29.8" fill="#141414" stroke="#444" stroke-width="0.8"/>
<line x1="123.3" y1="675.5" x2="123.3" y2="688.5" stroke="#8a8a8a" stroke-width="1"/>
<line x1="121.8" y1="675.5" x2="124.8" y2="675.5" stroke="#8a8a8a" stroke-width="1"/>
<rect x="117.0" y="688.5" width="12.6" height="12.8" fill="#fff" stroke="#444" stroke-width="0.8"/>
<line x1="135.89999999999998" y1="655.2" x2="135.89999999999998" y2="671" stroke="#8a8a8a" stroke-width="1"/>
<line x1="134.39999999999998" y1="655.2" x2="137.39999999999998" y2="655.2" stroke="#8a8a8a" stroke-width="1"/>
<rect x="129.6" y="671.0" width="12.6" height="30.3" fill="#a6a6a6" stroke="#444" stroke-width="0.8"/>
<line x1="148.5" y1="651.5" x2="148.5" y2="671.5" stroke="#8a8a8a" stroke-width="1"/>
<line x1="147.0" y1="651.5" x2="150.0" y2="651.5" stroke="#8a8a8a" stroke-width="1"/>
<rect x="142.2" y="671.5" width="12.6" height="29.8" fill="#141414" stroke="#444" stroke-width="0.8"/>
<line x1="180.3" y1="654.2" x2="180.3" y2="675" stroke="#8a8a8a" stroke-width="1"/>
<line x1="178.8" y1="654.2" x2="181.8" y2="654.2" stroke="#8a8a8a" stroke-width="1"/>
<rect x="174.0" y="675.0" width="12.6" height="26.3" fill="#fff" stroke="#444" stroke-width="0.8"/>
<line x1="192.89999999999998" y1="670.8" x2="192.89999999999998" y2="678.4" stroke="#8a8a8a" stroke-width="1"/>
<line x1="191.39999999999998" y1="670.8" x2="194.39999999999998" y2="670.8" stroke="#8a8a8a" stroke-width="1"/>
<rect x="186.6" y="678.4" width="12.6" height="22.9" fill="#a6a6a6" stroke="#444" stroke-width="0.8"/>
<line x1="205.5" y1="618.8" x2="205.5" y2="649.3" stroke="#8a8a8a" stroke-width="1"/>
<line x1="204.0" y1="618.8" x2="207.0" y2="618.8" stroke="#8a8a8a" stroke-width="1"/>
<rect x="199.2" y="649.3" width="12.6" height="52.0" fill="#141414" stroke="#444" stroke-width="0.8"/>
<line x1="237.3" y1="629.2" x2="237.3" y2="660.4" stroke="#8a8a8a" stroke-width="1"/>
<line x1="235.8" y1="629.2" x2="238.8" y2="629.2" stroke="#8a8a8a" stroke-width="1"/>
<rect x="231.0" y="660.4" width="12.6" height="40.9" fill="#fff" stroke="#444" stroke-width="0.8"/>
<line x1="249.89999999999998" y1="636.8" x2="249.89999999999998" y2="651.7" stroke="#8a8a8a" stroke-width="1"/>
<line x1="248.39999999999998" y1="636.8" x2="251.39999999999998" y2="636.8" stroke="#8a8a8a" stroke-width="1"/>
<rect x="243.6" y="651.7" width="12.6" height="49.6" fill="#a6a6a6" stroke="#444" stroke-width="0.8"/>
<line x1="262.5" y1="576.3" x2="262.5" y2="617.8" stroke="#8a8a8a" stroke-width="1"/>
<line x1="261.0" y1="576.3" x2="264.0" y2="576.3" stroke="#8a8a8a" stroke-width="1"/>
<rect x="256.2" y="617.8" width="12.6" height="83.5" fill="#141414" stroke="#444" stroke-width="0.8"/>
<line x1="294.5" y1="594.6" x2="294.5" y2="625" stroke="#8a8a8a" stroke-width="1"/>
<line x1="293.0" y1="594.6" x2="296.0" y2="594.6" stroke="#8a8a8a" stroke-width="1"/>
<rect x="288.2" y="625.0" width="12.6" height="76.3" fill="#fff" stroke="#444" stroke-width="0.8"/>
<line x1="307.1" y1="603.3" x2="307.1" y2="625.8" stroke="#8a8a8a" stroke-width="1"/>
<line x1="305.6" y1="603.3" x2="308.6" y2="603.3" stroke="#8a8a8a" stroke-width="1"/>
<rect x="300.8" y="625.8" width="12.6" height="75.5" fill="#a6a6a6" stroke="#444" stroke-width="0.8"/>
<line x1="319.7" y1="538.8" x2="319.7" y2="587.7" stroke="#8a8a8a" stroke-width="1"/>
<line x1="318.2" y1="538.8" x2="321.2" y2="538.8" stroke="#8a8a8a" stroke-width="1"/>
<rect x="313.4" y="587.7" width="12.6" height="113.6" fill="#141414" stroke="#444" stroke-width="0.8"/>
<rect x="49.5" y="524.4" width="286.6" height="176.89999999999998" fill="none" stroke="#333" stroke-width="1.2"/>
<path d="M121.5,673V638.6H148.3V643.2" fill="none" stroke="#555" stroke-width="1.2"/>
<text x="122.5" y="635.2" font-size="9.8" fill="#1a1a1a" stroke-width="0.1" textLength="28.3" lengthAdjust="spacingAndGlyphs"><tspan font-style="italic">P</tspan> = .01</text>
<path d="M180,643V610.9H206V617" fill="none" stroke="#555" stroke-width="1.2"/>
<text x="179" y="607.4" font-size="9.8" fill="#1a1a1a" stroke-width="0.1" textLength="29.5" lengthAdjust="spacingAndGlyphs"><tspan font-style="italic">P</tspan> = .02</text>
<path d="M236.8,618.8V562H263V570.4" fill="none" stroke="#555" stroke-width="1.2"/>
<text x="235.4" y="559" font-size="9.8" fill="#1a1a1a" stroke-width="0.1" textLength="28.9" lengthAdjust="spacingAndGlyphs"><tspan font-style="italic">P</tspan> = .01</text>
<text x="80.9" y="715" font-size="13.5" text-anchor="middle" font-weight="normal" fill="#1a1a1a">B2</text>
<text x="138.4" y="715" font-size="13.5" text-anchor="middle" font-weight="normal" fill="#1a1a1a">B1a</text>
<text x="195.4" y="714.8" font-size="13.5" text-anchor="middle" font-weight="normal" fill="#1a1a1a">B1b</text>
<text x="253.3" y="716" font-size="13.5" text-anchor="middle" font-weight="normal" fill="#1a1a1a">B1</text>
<text x="307.1" y="714.8" font-size="13.5" text-anchor="middle" font-weight="normal" fill="#1a1a1a" textLength="41" lengthAdjust="spacingAndGlyphs">B Cells</text>
<text x="307" y="727.6" font-size="13.5" text-anchor="middle" font-weight="normal" fill="#1a1a1a" textLength="27" lengthAdjust="spacingAndGlyphs">Total</text>
<rect x="55.8" y="528.8" width="11" height="10.6" fill="#fff" stroke="#444" stroke-width="1"/>
<rect x="55.8" y="547.5" width="11" height="10.6" fill="#b4b4b4" stroke="#444" stroke-width="1"/>
<rect x="55.8" y="568.8" width="11" height="10.6" fill="#141414" stroke="#444" stroke-width="1"/>
<text x="76" y="543" font-size="14" fill="#1a1a1a">TCRα<tspan dy="-3.8" dx="3.5" font-size="13.3">-/-</tspan></text>
<text x="76" y="561.3" font-size="14" fill="#1a1a1a">TCRα<tspan dy="-3.8" dx="1.8" font-size="13.3">-/-</tspan><tspan dy="3.8" dx="2.2" font-size="14.6">Itch</tspan><tspan dy="-3.8" dx="0.5" font-size="13.3">+/-</tspan></text>
<text x="76" y="582.5" font-size="14" fill="#1a1a1a">TCRα<tspan dy="-3.8" dx="1.8" font-size="13.3">-/-</tspan><tspan dy="3.8" dx="2.2" font-size="14.6">Itch</tspan><tspan dy="-3.8" dx="0.5" font-size="13.3">-/-</tspan></text>
<rect x="341" y="524.4" width="178.5" height="177" fill="#fff" stroke="#777" stroke-width="1.1"/>
<text x="347.6" y="541.6" font-size="14.5" text-anchor="start" font-weight="normal" fill="#1a1a1a" textLength="99.5" lengthAdjust="spacingAndGlyphs">Figure Legend</text>
<path d="M347.8,558.4L358.8,568.8M347.8,568.8L358.8,558.4" stroke="#111" stroke-width="1.5" fill="none"/>
<text x="361.3" y="568.5" font-size="14.6" text-anchor="start" font-weight="normal" fill="#1a1a1a" textLength="25.5" lengthAdjust="spacingAndGlyphs">B10</text>
<polygon points="348.1,583.0 352.9,578.2 357.7,583.0 352.9,587.8" fill="#fff" stroke="#111" stroke-width="1.2"/>
<text x="361.3" y="588" font-size="14.6" text-anchor="start" font-weight="normal" fill="#1a1a1a" textLength="30.1" lengthAdjust="spacingAndGlyphs">TCR</text>
<text x="392.6" y="588" font-size="14.6" text-anchor="start" font-weight="normal" fill="#1a1a1a">α</text>
<text x="402.8" y="585.4" font-size="14" text-anchor="start" font-weight="normal" fill="#1a1a1a" textLength="13.4" lengthAdjust="spacingAndGlyphs">-/-</text>
<text x="417.5" y="588" font-size="14.6" text-anchor="start" font-weight="normal" fill="#1a1a1a" textLength="24.8" lengthAdjust="spacingAndGlyphs">Itch</text>
<text x="443.2" y="585.4" font-size="14" text-anchor="start" font-weight="normal" fill="#1a1a1a" textLength="18.6" lengthAdjust="spacingAndGlyphs">+/+</text>
<text x="467.8" y="588" font-size="14.6" text-anchor="start" font-weight="normal" fill="#1a1a1a" textLength="42.5" lengthAdjust="spacingAndGlyphs">0-3mo</text>
<polygon points="347.7,604.0 352.9,598.8 358.1,604.0 352.9,609.2" fill="#111" stroke="none" stroke-width="1"/>
<text x="361.3" y="608.6" font-size="14.6" text-anchor="start" font-weight="normal" fill="#1a1a1a" textLength="30.1" lengthAdjust="spacingAndGlyphs">TCR</text>
<text x="392.6" y="608.6" font-size="14.6" text-anchor="start" font-weight="normal" fill="#1a1a1a">α</text>
<text x="402.8" y="606.0" font-size="14" text-anchor="start" font-weight="normal" fill="#1a1a1a" textLength="13.4" lengthAdjust="spacingAndGlyphs">-/-</text>
<text x="417.5" y="608.6" font-size="14.6" text-anchor="start" font-weight="normal" fill="#1a1a1a" textLength="24.8" lengthAdjust="spacingAndGlyphs">Itch</text>
<text x="443.2" y="606.0" font-size="14" text-anchor="start" font-weight="normal" fill="#1a1a1a" textLength="18.6" lengthAdjust="spacingAndGlyphs">+/+</text>
<text x="467.8" y="608.6" font-size="14.6" text-anchor="start" font-weight="normal" fill="#1a1a1a" textLength="42.5" lengthAdjust="spacingAndGlyphs">4-7mo</text>
<polygon points="347.7,630.9 352.9,621.1 358.1,630.9" fill="#fff" stroke="#111" stroke-width="1.1"/>
<text x="361.3" y="630.8" font-size="14.6" text-anchor="start" font-weight="normal" fill="#1a1a1a" textLength="30.1" lengthAdjust="spacingAndGlyphs">TCR</text>
<text x="392.6" y="630.8" font-size="14.6" text-anchor="start" font-weight="normal" fill="#1a1a1a">α</text>
<text x="402.8" y="630.0" font-size="14" text-anchor="start" font-weight="normal" fill="#1a1a1a" textLength="13.4" lengthAdjust="spacingAndGlyphs">-/-</text>
<text x="417.5" y="630.8" font-size="14.6" text-anchor="start" font-weight="normal" fill="#1a1a1a" textLength="24.8" lengthAdjust="spacingAndGlyphs">Itch</text>
<text x="443.8" y="628.2" font-size="14" text-anchor="start" font-weight="normal" fill="#1a1a1a" textLength="13.9" lengthAdjust="spacingAndGlyphs">-/-</text>
<text x="467.8" y="630.8" font-size="14.6" text-anchor="start" font-weight="normal" fill="#1a1a1a" textLength="42.5" lengthAdjust="spacingAndGlyphs">0-3mo</text>
<polygon points="347.7,651.5 352.9,641.7 358.1,651.5" fill="#111" stroke="none" stroke-width="1"/>
<text x="361.3" y="650.8" font-size="14.6" text-anchor="start" font-weight="normal" fill="#1a1a1a" textLength="30.1" lengthAdjust="spacingAndGlyphs">TCR</text>
<text x="392.6" y="650.8" font-size="14.6" text-anchor="start" font-weight="normal" fill="#1a1a1a">α</text>
<text x="402.8" y="648.2" font-size="14" text-anchor="start" font-weight="normal" fill="#1a1a1a" textLength="13.4" lengthAdjust="spacingAndGlyphs">-/-</text>
<text x="417.5" y="650.8" font-size="14.6" text-anchor="start" font-weight="normal" fill="#1a1a1a" textLength="24.8" lengthAdjust="spacingAndGlyphs">Itch</text>
<text x="443.8" y="648.2" font-size="14" text-anchor="start" font-weight="normal" fill="#1a1a1a" textLength="13.9" lengthAdjust="spacingAndGlyphs">-/-</text>
<text x="467.8" y="650.8" font-size="14.6" text-anchor="start" font-weight="normal" fill="#1a1a1a" textLength="42.5" lengthAdjust="spacingAndGlyphs">4-7mo</text>
<circle cx="353.0" cy="669.9" r="4.5" fill="#111"/>
<text x="362.6" y="675" font-size="14.6" text-anchor="start" font-weight="normal" fill="#1a1a1a" textLength="23.1" lengthAdjust="spacingAndGlyphs">Itch</text>
<text x="388.5" y="672.4" font-size="14" text-anchor="start" font-weight="normal" fill="#1a1a1a" textLength="13.8" lengthAdjust="spacingAndGlyphs">-/-</text>
<text x="408" y="675" font-size="14.6" text-anchor="start" font-weight="normal" fill="#1a1a1a" textLength="42" lengthAdjust="spacingAndGlyphs">4-7mo</text>
<path d="M349.3,686.9L356.7,694.3M349.3,694.3L356.7,686.9" stroke="#222" stroke-width="1.1" fill="none"/>
<text x="361.3" y="694.8" font-size="14.6" text-anchor="start" font-weight="normal" fill="#1a1a1a" textLength="30.1" lengthAdjust="spacingAndGlyphs">TCR</text>
<text x="392.6" y="694.8" font-size="14.6" text-anchor="start" font-weight="normal" fill="#1a1a1a">α</text>
<text x="402.8" y="692.2" font-size="14" text-anchor="start" font-weight="normal" fill="#1a1a1a" textLength="13.4" lengthAdjust="spacingAndGlyphs">-/-</text>
<text x="417.5" y="694.8" font-size="14.6" text-anchor="start" font-weight="normal" fill="#1a1a1a" textLength="24.8" lengthAdjust="spacingAndGlyphs">Itch</text>
<text x="443.2" y="692.2" font-size="14" text-anchor="start" font-weight="normal" fill="#1a1a1a" textLength="16.2" lengthAdjust="spacingAndGlyphs">+/-</text>
</svg>
</body></html>
